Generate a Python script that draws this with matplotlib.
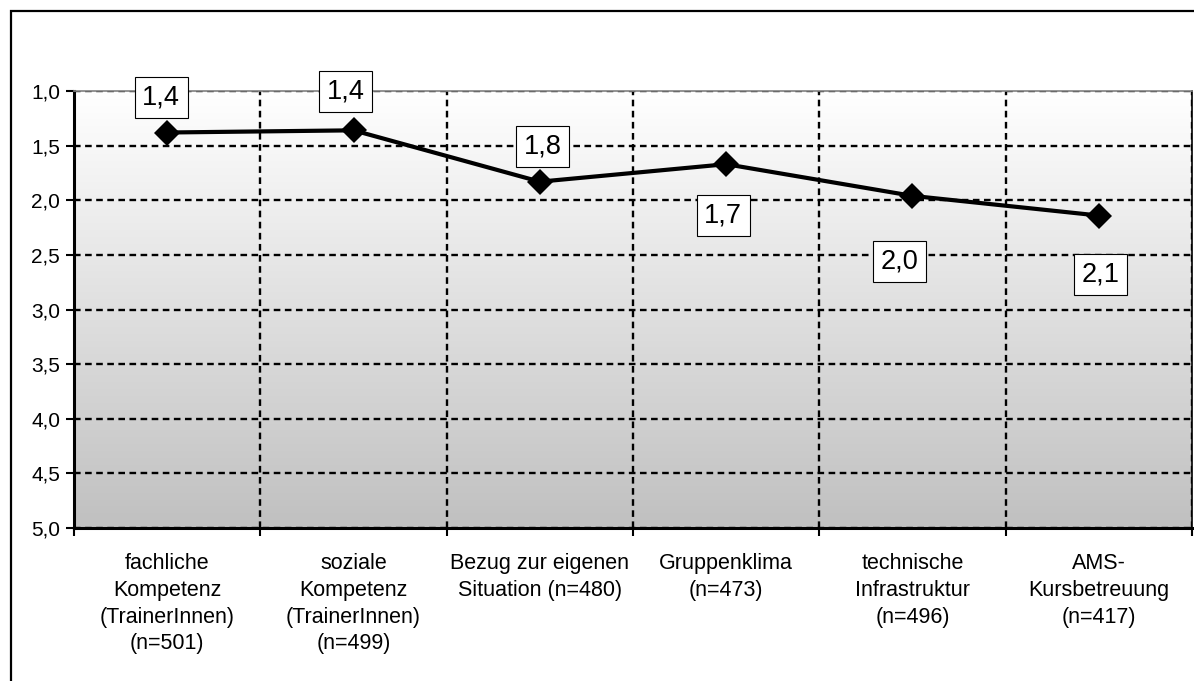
import numpy as np
import matplotlib
matplotlib.use("Agg")
import matplotlib.pyplot as plt
from matplotlib.colors import LinearSegmentedColormap
from matplotlib.patches import Rectangle

# Mean ratings per item (1 = best, 5 = worst)
categories = [
    "fachliche\nKompetenz\n(TrainerInnen)\n(n=501)",
    "soziale\nKompetenz\n(TrainerInnen)\n(n=499)",
    "Bezug zur eigenen\nSituation (n=480)",
    "Gruppenklima\n(n=473)",
    "technische\nInfrastruktur\n(n=496)",
    "AMS-\nKursbetreuung\n(n=417)",
]
means = [1.38, 1.36, 1.83, 1.67, 1.96, 2.14]

# Where each value box sits relative to its marker (pixels)
label_offsets = [(-6, 35), (-8, 39), (3, 35), (-3, -51), (-13, -66), (2, -59)]

plt.rcParams["font.family"] = ["Liberation Sans", "DejaVu Sans"]

fig = plt.figure(figsize=(11.94, 6.81), dpi=100)
ax = fig.add_axes([74 / 1194, 1 - 528 / 681, (1192 - 74) / 1194, (528 - 91) / 681])

x = np.arange(len(categories))
xlim = (-0.5, len(categories) - 0.5)

# white-to-grey background of the plot area
cmap = LinearSegmentedColormap.from_list("bg", ["#FFFFFF", "#C0C0C0"])
grad = np.linspace(0, 1, 256).reshape(-1, 1)
ax.imshow(grad, cmap=cmap, extent=[xlim[0], xlim[1], 5, 1], aspect="auto",
          origin="upper", zorder=0, interpolation="bicubic")

ax.plot(x, means, color="black", lw=3.0, marker="D", ms=13.5, mew=0, zorder=3,
        clip_on=False)

for xi, v, off in zip(x, means, label_offsets):
    ax.annotate("{:.1f}".format(v).replace(".", ","), (xi, v), xytext=off,
                textcoords="offset pixels", ha="center", va="center",
                fontsize=19.5, zorder=4,
                bbox=dict(boxstyle="square,pad=0.28", fc="white", ec="black", lw=0.8))

ax.set_xlim(*xlim)
ax.set_ylim(5, 1)

yt = np.arange(1.0, 5.01, 0.5)
ax.set_yticks(yt)
ax.set_yticklabels(["{:.1f}".format(t).replace(".", ",") for t in yt], fontsize=15)

ax.set_xticks(np.arange(xlim[0], xlim[1] + 0.01, 1.0))
ax.set_xticklabels([])
ax.set_xticks(x, minor=True)
ax.set_xticklabels(categories, minor=True, fontsize=15.5, linespacing=1.36)

ax.tick_params(axis="y", length=6, width=1.5, direction="out", pad=4)
ax.tick_params(axis="x", which="major", length=6, width=1.5, direction="out")
ax.tick_params(axis="x", which="minor", length=0, pad=18)

ax.set_axisbelow(True)
ax.grid(True, which="major", color="black", lw=1.7, linestyle=(0, (2.8, 1.9)))

for side in ("left", "bottom"):
    ax.spines[side].set_linewidth(2.2)
    ax.spines[side].set_color("black")
ax.spines["right"].set_linewidth(1.2)
ax.spines["top"].set_color("#808080")
ax.spines["top"].set_linewidth(1.2)

# outer chart frame
fig.patches.append(Rectangle((11 / 1194, -0.1), 1.2, 1 - 11 / 681 + 0.1,
                             transform=fig.transFigure, fill=False,
                             ec="black", lw=1.6))

fig.savefig("out.png", dpi=100)
